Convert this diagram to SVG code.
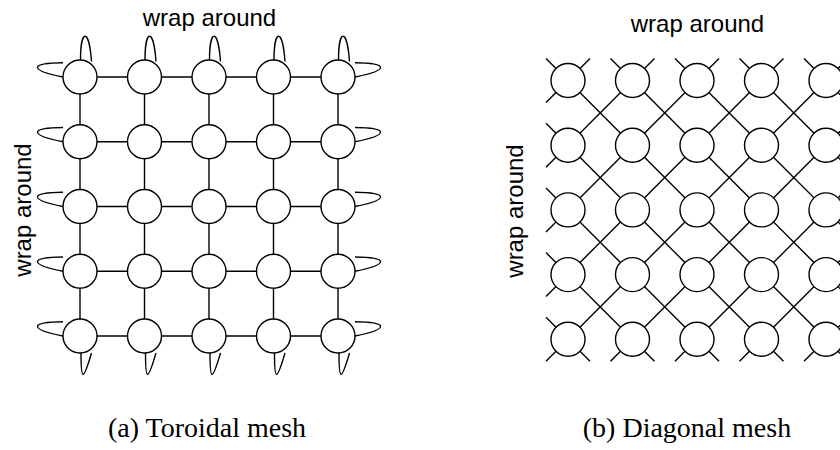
<svg xmlns="http://www.w3.org/2000/svg" width="840" height="450" viewBox="0 0 840 450">
<style>
.ln{stroke:#000;stroke-width:1.4;fill:none}
.nd{fill:#fff;stroke:#000;stroke-width:1.4}
.lbl{font-family:"Liberation Sans",Arial,sans-serif;font-size:24px;fill:#000}
.cap{font-family:"Liberation Serif","Times New Roman",serif;font-size:28px;fill:#000;text-anchor:middle}
</style>
<rect width="840" height="450" fill="#fff"/>
<text class="lbl" x="209.5" y="26" text-anchor="middle">wrap around</text>
<text class="lbl" transform="translate(31,210) rotate(-90)" text-anchor="middle">wrap around</text>
<text class="lbl" x="697.5" y="32" text-anchor="middle">wrap around</text>
<text class="lbl" transform="translate(523,211) rotate(-90)" text-anchor="middle">wrap around</text>
<g id="connectors-a">
<line class="ln" x1="80" y1="77" x2="338" y2="77"/>
<line class="ln" x1="80" y1="141.75" x2="338" y2="141.75"/>
<line class="ln" x1="80" y1="206.5" x2="338" y2="206.5"/>
<line class="ln" x1="80" y1="271.25" x2="338" y2="271.25"/>
<line class="ln" x1="80" y1="336" x2="338" y2="336"/>
<line class="ln" x1="80" y1="77" x2="80" y2="336"/>
<line class="ln" x1="144.5" y1="77" x2="144.5" y2="336"/>
<line class="ln" x1="209" y1="77" x2="209" y2="336"/>
<line class="ln" x1="273.5" y1="77" x2="273.5" y2="336"/>
<line class="ln" x1="338" y1="77" x2="338" y2="336"/>
<path class="ln" d="M80.5,60 c0,-31 8.5,-33 11,1.5"/>
<path class="ln" d="M145,60 c0,-31 8.5,-33 11,1.5"/>
<path class="ln" d="M209.5,60 c0,-31 8.5,-33 11,1.5"/>
<path class="ln" d="M274,60 c0,-31 8.5,-33 11,1.5"/>
<path class="ln" d="M338.5,60 c0,-31 8.5,-33 11,1.5"/>
<path class="ln" d="M81,353 c0,28 2,29 10.5,0"/>
<path class="ln" d="M145.5,353 c0,28 2,29 10.5,0"/>
<path class="ln" d="M210,353 c0,28 2,29 10.5,0"/>
<path class="ln" d="M274.5,353 c0,28 2,29 10.5,0"/>
<path class="ln" d="M339,353 c0,28 2,29 10.5,0"/>
<path class="ln" d="M63,77 c-35,-7 -33,-14 0,-14.3"/>
<path class="ln" d="M63,141.75 c-35,-7 -33,-14 0,-14.3"/>
<path class="ln" d="M63,206.5 c-35,-7 -33,-14 0,-14.3"/>
<path class="ln" d="M63,271.25 c-35,-7 -33,-14 0,-14.3"/>
<path class="ln" d="M63,336 c-35,-7 -33,-14 0,-14.3"/>
<path class="ln" d="M355,77 c35,-7 33,-14 0,-14.3"/>
<path class="ln" d="M355,141.75 c35,-7 33,-14 0,-14.3"/>
<path class="ln" d="M355,206.5 c35,-7 33,-14 0,-14.3"/>
<path class="ln" d="M355,271.25 c35,-7 33,-14 0,-14.3"/>
<path class="ln" d="M355,336 c35,-7 33,-14 0,-14.3"/>
</g>
<g id="connectors-b">
<line class="ln" x1="804" y1="58.5" x2="848" y2="102.5"/>
<line class="ln" x1="739.5" y1="58.5" x2="848" y2="167.2"/>
<line class="ln" x1="675" y1="58.5" x2="848" y2="231.9"/>
<line class="ln" x1="610.5" y1="58.5" x2="848" y2="296.6"/>
<line class="ln" x1="546" y1="58.5" x2="848" y2="361.3"/>
<line class="ln" x1="546" y1="123.2" x2="783.5" y2="361.3"/>
<line class="ln" x1="546" y1="187.9" x2="719" y2="361.3"/>
<line class="ln" x1="546" y1="252.6" x2="654.5" y2="361.3"/>
<line class="ln" x1="546" y1="317.3" x2="590" y2="361.3"/>
<line class="ln" x1="590" y1="58.5" x2="546" y2="102.5"/>
<line class="ln" x1="654.5" y1="58.5" x2="546" y2="167.2"/>
<line class="ln" x1="719" y1="58.5" x2="546" y2="231.9"/>
<line class="ln" x1="783.5" y1="58.5" x2="546" y2="296.6"/>
<line class="ln" x1="848" y1="58.5" x2="546" y2="361.3"/>
<line class="ln" x1="848" y1="123.2" x2="610.5" y2="361.3"/>
<line class="ln" x1="848" y1="187.9" x2="675" y2="361.3"/>
<line class="ln" x1="848" y1="252.6" x2="739.5" y2="361.3"/>
<line class="ln" x1="848" y1="317.3" x2="804" y2="361.3"/>
</g>
<g id="a-r0c0"><circle class="nd" cx="80" cy="77" r="17"/></g>
<g id="a-r0c1"><circle class="nd" cx="144.5" cy="77" r="17"/></g>
<g id="a-r0c2"><circle class="nd" cx="209" cy="77" r="17"/></g>
<g id="a-r0c3"><circle class="nd" cx="273.5" cy="77" r="17"/></g>
<g id="a-r0c4"><circle class="nd" cx="338" cy="77" r="17"/></g>
<g id="a-r1c0"><circle class="nd" cx="80" cy="141.75" r="17"/></g>
<g id="a-r1c1"><circle class="nd" cx="144.5" cy="141.75" r="17"/></g>
<g id="a-r1c2"><circle class="nd" cx="209" cy="141.75" r="17"/></g>
<g id="a-r1c3"><circle class="nd" cx="273.5" cy="141.75" r="17"/></g>
<g id="a-r1c4"><circle class="nd" cx="338" cy="141.75" r="17"/></g>
<g id="a-r2c0"><circle class="nd" cx="80" cy="206.5" r="17"/></g>
<g id="a-r2c1"><circle class="nd" cx="144.5" cy="206.5" r="17"/></g>
<g id="a-r2c2"><circle class="nd" cx="209" cy="206.5" r="17"/></g>
<g id="a-r2c3"><circle class="nd" cx="273.5" cy="206.5" r="17"/></g>
<g id="a-r2c4"><circle class="nd" cx="338" cy="206.5" r="17"/></g>
<g id="a-r3c0"><circle class="nd" cx="80" cy="271.25" r="17"/></g>
<g id="a-r3c1"><circle class="nd" cx="144.5" cy="271.25" r="17"/></g>
<g id="a-r3c2"><circle class="nd" cx="209" cy="271.25" r="17"/></g>
<g id="a-r3c3"><circle class="nd" cx="273.5" cy="271.25" r="17"/></g>
<g id="a-r3c4"><circle class="nd" cx="338" cy="271.25" r="17"/></g>
<g id="a-r4c0"><circle class="nd" cx="80" cy="336" r="17"/></g>
<g id="a-r4c1"><circle class="nd" cx="144.5" cy="336" r="17"/></g>
<g id="a-r4c2"><circle class="nd" cx="209" cy="336" r="17"/></g>
<g id="a-r4c3"><circle class="nd" cx="273.5" cy="336" r="17"/></g>
<g id="a-r4c4"><circle class="nd" cx="338" cy="336" r="17"/></g>
<g id="b-r0c0"><circle class="nd" cx="568" cy="80.5" r="17"/></g>
<g id="b-r0c1"><circle class="nd" cx="632.5" cy="80.5" r="17"/></g>
<g id="b-r0c2"><circle class="nd" cx="697" cy="80.5" r="17"/></g>
<g id="b-r0c3"><circle class="nd" cx="761.5" cy="80.5" r="17"/></g>
<g id="b-r0c4"><circle class="nd" cx="826" cy="80.5" r="17"/></g>
<g id="b-r1c0"><circle class="nd" cx="568" cy="145.2" r="17"/></g>
<g id="b-r1c1"><circle class="nd" cx="632.5" cy="145.2" r="17"/></g>
<g id="b-r1c2"><circle class="nd" cx="697" cy="145.2" r="17"/></g>
<g id="b-r1c3"><circle class="nd" cx="761.5" cy="145.2" r="17"/></g>
<g id="b-r1c4"><circle class="nd" cx="826" cy="145.2" r="17"/></g>
<g id="b-r2c0"><circle class="nd" cx="568" cy="209.9" r="17"/></g>
<g id="b-r2c1"><circle class="nd" cx="632.5" cy="209.9" r="17"/></g>
<g id="b-r2c2"><circle class="nd" cx="697" cy="209.9" r="17"/></g>
<g id="b-r2c3"><circle class="nd" cx="761.5" cy="209.9" r="17"/></g>
<g id="b-r2c4"><circle class="nd" cx="826" cy="209.9" r="17"/></g>
<g id="b-r3c0"><circle class="nd" cx="568" cy="274.6" r="17"/></g>
<g id="b-r3c1"><circle class="nd" cx="632.5" cy="274.6" r="17"/></g>
<g id="b-r3c2"><circle class="nd" cx="697" cy="274.6" r="17"/></g>
<g id="b-r3c3"><circle class="nd" cx="761.5" cy="274.6" r="17"/></g>
<g id="b-r3c4"><circle class="nd" cx="826" cy="274.6" r="17"/></g>
<g id="b-r4c0"><circle class="nd" cx="568" cy="339.3" r="17"/></g>
<g id="b-r4c1"><circle class="nd" cx="632.5" cy="339.3" r="17"/></g>
<g id="b-r4c2"><circle class="nd" cx="697" cy="339.3" r="17"/></g>
<g id="b-r4c3"><circle class="nd" cx="761.5" cy="339.3" r="17"/></g>
<g id="b-r4c4"><circle class="nd" cx="826" cy="339.3" r="17"/></g>
<text class="cap" x="207" y="437">(a)  Toroidal mesh</text>
<text class="cap" x="687" y="437">(b)  Diagonal mesh</text>
</svg>
